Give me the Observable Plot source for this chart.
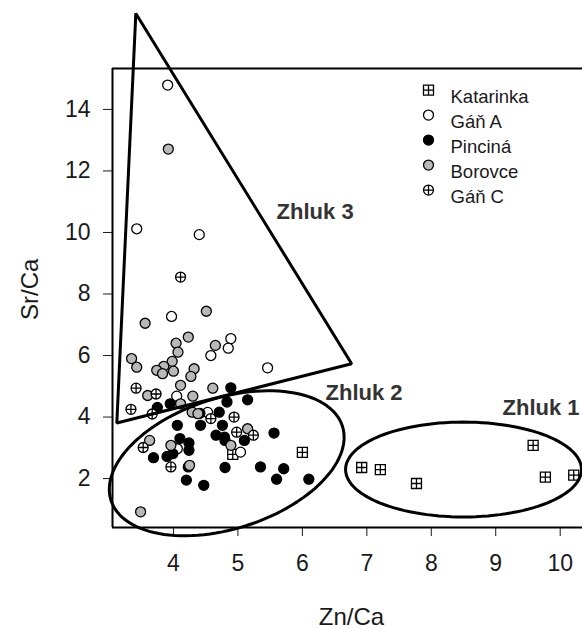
<!DOCTYPE html>
<html><head><meta charset="utf-8">
<script src="https://cdn.jsdelivr.net/npm/d3@7"></script>
<script src="https://cdn.jsdelivr.net/npm/@observablehq/plot@0.6"></script>
<style>body{margin:0;background:#fff;} #chart svg{display:block;}</style>
</head><body><div id="chart"></div>
<script>
// ---- data (Zn/Ca, Sr/Ca) ----
const katarinka = [[4.92,2.79],[6.00,2.85],[6.92,2.36],[7.21,2.29],[7.77,1.84],[9.58,3.08],[9.77,2.05],[10.21,2.11]];
const ganA = [[3.91,14.79],[3.43,10.12],[4.40,9.93],[3.97,7.27],[4.89,6.55],[4.85,6.24],[4.58,6.00],[5.46,5.60],[4.05,4.68],[4.53,4.15],[5.04,2.86],[4.06,2.97]];
const pincina = [[4.89,4.95],[5.15,4.56],[4.83,4.49],[3.75,4.31],[3.95,4.43],[4.41,4.12],[4.71,4.16],[4.76,3.73],[4.42,3.73],[4.06,3.73],[4.66,3.41],[4.79,3.35],[4.80,3.24],[5.10,3.24],[5.56,3.48],[4.10,3.30],[4.24,3.16],[4.24,2.92],[3.99,2.81],[3.90,2.72],[3.69,2.68],[4.23,2.38],[4.20,1.95],[4.47,1.78],[4.80,2.36],[5.35,2.38],[5.71,2.32],[5.60,1.98],[6.10,1.98]];
const borovce = [[3.92,12.71],[4.51,7.44],[3.56,7.05],[4.23,6.60],[4.04,6.40],[4.07,6.11],[4.65,6.33],[3.35,5.90],[3.43,5.62],[3.98,5.81],[3.85,5.65],[3.74,5.52],[3.83,5.41],[4.00,5.49],[4.32,5.57],[4.27,5.32],[4.11,5.03],[4.61,4.94],[3.60,4.70],[4.30,4.68],[4.11,4.43],[4.29,4.16],[4.38,4.11],[5.15,3.62],[4.89,3.08],[3.96,3.08],[3.63,3.24],[4.25,2.43],[3.49,0.92]];
const ganC = [[4.11,8.55],[3.42,4.94],[3.73,4.75],[3.34,4.25],[3.67,4.10],[4.58,3.95],[4.94,4.00],[4.98,3.51],[5.24,3.41],[3.53,3.01],[3.96,2.38]];

const groupNames = ["Katarinka","Gáň A","Pinciná","Borovce","Gáň C"];
const groupData = [katarinka, ganA, pincina, borovce, ganC];

const xTicks = [4,5,6,7,8,9,10];
const yTicks = [2,4,6,8,10,12,14];
const xDomain = [3.054, 10.346];
const yDomain = [0.41, 15.33];

// cluster annotations (data units)
const zhluk3Triangle = [[3.416,17.12],[3.121,3.805],[6.764,5.734]];
const zhluk2Ellipse = {cx:4.826, cy:2.497, ux:1.795, uy:1.208, vx:0.310, vy:-2.023};
const zhluk1Ellipse = {cx:8.50, cy:2.295, ux:1.83, uy:0, vx:0, vy:1.542};
const clusterLabels = [["Zhluk 3",5.60,10.68],["Zhluk 2",6.36,4.77],["Zhluk 1",9.105,4.28]];

// ---- symbols ----
const squarePlus = {draw(ctx, size){const r=Math.sqrt(size/Math.PI); const s=r*1.0;
  ctx.moveTo(-s,-s);ctx.lineTo(s,-s);ctx.lineTo(s,s);ctx.lineTo(-s,s);ctx.closePath();
  ctx.moveTo(-s,0);ctx.lineTo(s,0);ctx.moveTo(0,-s);ctx.lineTo(0,s);}};
const circlePlus = {draw(ctx, size){const r=Math.sqrt(size/Math.PI);
  ctx.moveTo(r,0);ctx.arc(0,0,r,0,2*Math.PI);ctx.closePath();
  ctx.moveTo(-r,0);ctx.lineTo(r,0);ctx.moveTo(0,-r);ctx.lineTo(0,r);}};
const styleFor = {
  "Katarinka": {symbol: squarePlus, fill: "white"},
  "Gáň A": {symbol: "circle", fill: "white"},
  "Pinciná": {symbol: "circle", fill: "black"},
  "Borovce": {symbol: "circle", fill: "#b8b8b8"},
  "Gáň C": {symbol: circlePlus, fill: "white"}
};

function ellipsePts(e){
  const pts=[]; const n=120;
  for(let i=0;i<n;i++){const t=2*Math.PI*i/n;
    pts.push([e.cx+e.ux*Math.cos(t)+e.vx*Math.sin(t), e.cy+e.uy*Math.cos(t)+e.vy*Math.sin(t)]);}
  return pts;
}

const pointMarks = groupNames.map((g,i)=>Plot.dot(groupData[i], {
  x: d=>d[0], y: d=>d[1], r: 5, symbol: styleFor[g].symbol, fill: styleFor[g].fill,
  stroke: "black", strokeWidth: 1.3
}));

const legendMarks = groupNames.flatMap((g,i)=>[
  Plot.dot([g], {frameAnchor:"top-right", dx:-154, dy:21.6+25*i, r:5, symbol: styleFor[g].symbol,
    fill: styleFor[g].fill, stroke:"black", strokeWidth:1.3}),
  Plot.text([g], {frameAnchor:"top-right", dx:-132, dy:21.6+25*i, text:d=>d, textAnchor:"start",
    fontSize:18.5, fill:"#1a1a1a"})
]);

const lineOpts = {x:d=>d[0], y:d=>d[1], curve:"linear-closed", stroke:"black", strokeWidth:3, strokeLinejoin:"miter", fill:"none"};

const chart = Plot.plot({
  width: 582, height: 628,
  marginLeft: 112, marginRight: 0, marginTop: 68, marginBottom: 101,
  style: {fontFamily: "'Liberation Sans', Arial, sans-serif", fontSize: "23px", color: "#1a1a1a", background: "white", overflow: "visible"},
  x: {domain: xDomain, ticks: xTicks, tickSize: 9, tickPadding: 18, label: null},
  y: {domain: yDomain, ticks: yTicks, tickSize: 9, tickPadding: 13, label: null},
  marks: [
    ...pointMarks,
    Plot.line(zhluk3Triangle, lineOpts),
    Plot.line(ellipsePts(zhluk2Ellipse), lineOpts),
    Plot.line(ellipsePts(zhluk1Ellipse), lineOpts),
    Plot.text(clusterLabels, {x:d=>d[1], y:d=>d[2], text:d=>d[0], textAnchor:"start", fontSize:22, fontWeight:"bold", fill:"#333"}),
    ...legendMarks,
    Plot.ruleY([yDomain[0], yDomain[1]], {stroke:"black", strokeWidth:2}),
    Plot.ruleX([xDomain[0]], {stroke:"black", strokeWidth:2}),
    Plot.text(["Zn/Ca"], {frameAnchor:"bottom", dx:4, dy:97, text:d=>d, fontSize:24}),
    Plot.text(["Sr/Ca"], {frameAnchor:"left", dx:-82, dy:22, rotate:-90, text:d=>d, fontSize:24})
  ]
});
document.getElementById("chart").appendChild(chart);
</script>
</body></html>
